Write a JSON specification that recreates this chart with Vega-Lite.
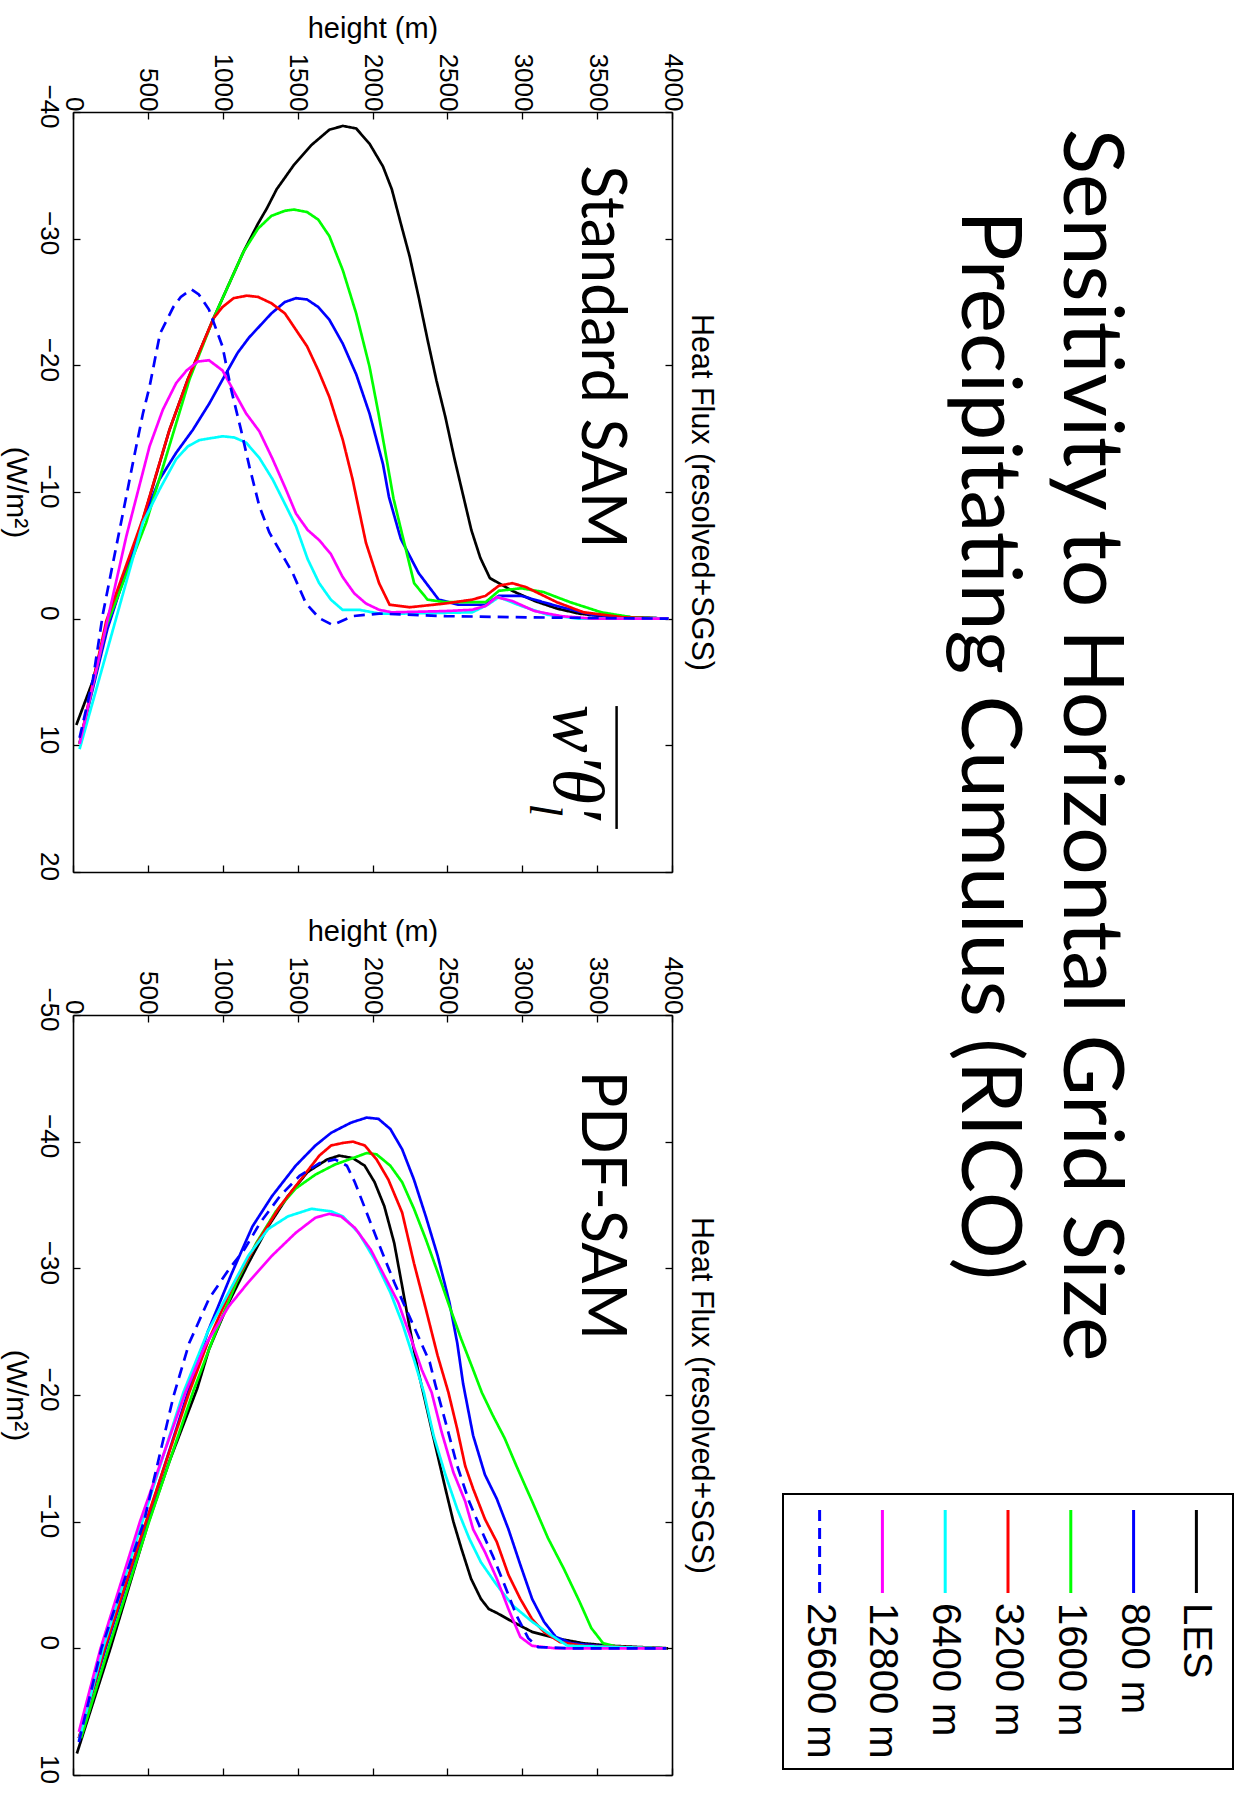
{
"$schema": "https://vega.github.io/schema/vega-lite/v6.json",
"background": "white",
"padding": {"left": 0, "top": 14, "right": 0, "bottom": 0},
"config": {
  "view": {"stroke": null},
  "font": "Liberation Sans",
  "axis": {"grid": false, "domainColor": "black", "domainWidth": 1.6, "tickColor": "black", "tickWidth": 1.3, "tickSize": -7,
    "labelColor": "black", "titleColor": "black", "labelFont": "Liberation Sans", "titleFont": "Liberation Sans",
    "labelFontSize": 26, "titleFontSize": 30, "titleFontWeight": "normal", "labelFlush": false, "labelOverlap": false},
  "text": {"color": "black"}
},
"datasets": {
  "titles": [
    {"n": 1, "line": "Sensitivity to Horizontal Grid Size"},
    {"n": 2, "line": "Precipitating Cumulus (RICO)"}
  ],
  "legend": [
    {"s": "LES"}, {"s": "800 m"}, {"s": "1600 m"}, {"s": "3200 m"}, {"s": "6400 m"}, {"s": "12800 m"}, {"s": "25600 m"}
  ],
  "curves": [
    {"p":"std","s":"LES","h":22,"f":8.4},{"p":"std","s":"LES","h":133,"f":4.9},{"p":"std","s":"LES","h":200,"f":1.7},{"p":"std","s":"LES","h":467,"f":-7.8},{"p":"std","s":"LES","h":644,"f":-14.9},{"p":"std","s":"LES","h":767,"f":-18.9},{"p":"std","s":"LES","h":938,"f":-23.7},{"p":"std","s":"LES","h":1140,"f":-29.0},{"p":"std","s":"LES","h":1236,"f":-31.2},{"p":"std","s":"LES","h":1295,"f":-32.4},{"p":"std","s":"LES","h":1360,"f":-33.9},{"p":"std","s":"LES","h":1474,"f":-35.8},{"p":"std","s":"LES","h":1593,"f":-37.4},{"p":"std","s":"LES","h":1712,"f":-38.6},{"p":"std","s":"LES","h":1802,"f":-38.9},{"p":"std","s":"LES","h":1891,"f":-38.7},{"p":"std","s":"LES","h":1980,"f":-37.5},{"p":"std","s":"LES","h":2070,"f":-35.7},{"p":"std","s":"LES","h":2129,"f":-33.9},{"p":"std","s":"LES","h":2189,"f":-31.2},{"p":"std","s":"LES","h":2248,"f":-28.6},{"p":"std","s":"LES","h":2308,"f":-25.4},{"p":"std","s":"LES","h":2368,"f":-22.0},{"p":"std","s":"LES","h":2427,"f":-18.8},{"p":"std","s":"LES","h":2487,"f":-15.9},{"p":"std","s":"LES","h":2546,"f":-12.7},{"p":"std","s":"LES","h":2600,"f":-10.0},{"p":"std","s":"LES","h":2660,"f":-7.0},{"p":"std","s":"LES","h":2720,"f":-4.8},{"p":"std","s":"LES","h":2784,"f":-3.2},{"p":"std","s":"LES","h":2874,"f":-2.6},{"p":"std","s":"LES","h":2933,"f":-2.2},{"p":"std","s":"LES","h":3082,"f":-1.4},{"p":"std","s":"LES","h":3231,"f":-0.8},{"p":"std","s":"LES","h":3380,"f":-0.4},{"p":"std","s":"LES","h":3529,"f":-0.2},{"p":"std","s":"LES","h":3976,"f":0},
    {"p":"std","s":"800 m","h":44,"f":9.8},{"p":"std","s":"800 m","h":230,"f":0.8},{"p":"std","s":"800 m","h":467,"f":-7.8},{"p":"std","s":"800 m","h":578,"f":-11.0},{"p":"std","s":"800 m","h":689,"f":-13.1},{"p":"std","s":"800 m","h":800,"f":-14.9},{"p":"std","s":"800 m","h":911,"f":-17.0},{"p":"std","s":"800 m","h":1000,"f":-18.9},{"p":"std","s":"800 m","h":1100,"f":-21.0},{"p":"std","s":"800 m","h":1176,"f":-22.2},{"p":"std","s":"800 m","h":1325,"f":-24.1},{"p":"std","s":"800 m","h":1415,"f":-25.0},{"p":"std","s":"800 m","h":1489,"f":-25.3},{"p":"std","s":"800 m","h":1563,"f":-25.2},{"p":"std","s":"800 m","h":1638,"f":-24.6},{"p":"std","s":"800 m","h":1712,"f":-23.6},{"p":"std","s":"800 m","h":1802,"f":-21.7},{"p":"std","s":"800 m","h":1891,"f":-19.3},{"p":"std","s":"800 m","h":1980,"f":-16.2},{"p":"std","s":"800 m","h":2070,"f":-12.2},{"p":"std","s":"800 m","h":2110,"f":-9.6},{"p":"std","s":"800 m","h":2189,"f":-6.3},{"p":"std","s":"800 m","h":2308,"f":-3.6},{"p":"std","s":"800 m","h":2442,"f":-1.5},{"p":"std","s":"800 m","h":2576,"f":-1.1},{"p":"std","s":"800 m","h":2755,"f":-1.1},{"p":"std","s":"800 m","h":2844,"f":-1.8},{"p":"std","s":"800 m","h":2993,"f":-1.8},{"p":"std","s":"800 m","h":3231,"f":-1.0},{"p":"std","s":"800 m","h":3469,"f":-0.3},{"p":"std","s":"800 m","h":3737,"f":-0.1},{"p":"std","s":"800 m","h":3976,"f":0},
    {"p":"std","s":"1600 m","h":44,"f":9.9},{"p":"std","s":"1600 m","h":222,"f":0.6},{"p":"std","s":"1600 m","h":489,"f":-7.6},{"p":"std","s":"1600 m","h":778,"f":-18.9},{"p":"std","s":"1600 m","h":938,"f":-23.7},{"p":"std","s":"1600 m","h":1140,"f":-29.0},{"p":"std","s":"1600 m","h":1236,"f":-30.8},{"p":"std","s":"1600 m","h":1325,"f":-31.8},{"p":"std","s":"1600 m","h":1415,"f":-32.2},{"p":"std","s":"1600 m","h":1474,"f":-32.3},{"p":"std","s":"1600 m","h":1563,"f":-32.1},{"p":"std","s":"1600 m","h":1638,"f":-31.5},{"p":"std","s":"1600 m","h":1712,"f":-30.2},{"p":"std","s":"1600 m","h":1802,"f":-27.5},{"p":"std","s":"1600 m","h":1891,"f":-24.1},{"p":"std","s":"1600 m","h":1980,"f":-19.9},{"p":"std","s":"1600 m","h":2040,"f":-16.2},{"p":"std","s":"1600 m","h":2100,"f":-12.2},{"p":"std","s":"1600 m","h":2140,"f":-9.5},{"p":"std","s":"1600 m","h":2189,"f":-7.1},{"p":"std","s":"1600 m","h":2278,"f":-2.8},{"p":"std","s":"1600 m","h":2368,"f":-1.5},{"p":"std","s":"1600 m","h":2487,"f":-1.3},{"p":"std","s":"1600 m","h":2755,"f":-1.3},{"p":"std","s":"1600 m","h":2844,"f":-2.2},{"p":"std","s":"1600 m","h":2993,"f":-2.4},{"p":"std","s":"1600 m","h":3142,"f":-2.1},{"p":"std","s":"1600 m","h":3320,"f":-1.3},{"p":"std","s":"1600 m","h":3529,"f":-0.5},{"p":"std","s":"1600 m","h":3737,"f":-0.1},{"p":"std","s":"1600 m","h":3976,"f":0},
    {"p":"std","s":"3200 m","h":44,"f":9.9},{"p":"std","s":"3200 m","h":222,"f":0.2},{"p":"std","s":"3200 m","h":467,"f":-7.9},{"p":"std","s":"3200 m","h":644,"f":-14.9},{"p":"std","s":"3200 m","h":767,"f":-18.9},{"p":"std","s":"3200 m","h":938,"f":-23.7},{"p":"std","s":"3200 m","h":998,"f":-24.6},{"p":"std","s":"3200 m","h":1072,"f":-25.3},{"p":"std","s":"3200 m","h":1161,"f":-25.5},{"p":"std","s":"3200 m","h":1236,"f":-25.4},{"p":"std","s":"3200 m","h":1325,"f":-24.9},{"p":"std","s":"3200 m","h":1415,"f":-24.1},{"p":"std","s":"3200 m","h":1489,"f":-22.8},{"p":"std","s":"3200 m","h":1563,"f":-21.5},{"p":"std","s":"3200 m","h":1638,"f":-19.6},{"p":"std","s":"3200 m","h":1712,"f":-17.5},{"p":"std","s":"3200 m","h":1802,"f":-14.1},{"p":"std","s":"3200 m","h":1867,"f":-11.0},{"p":"std","s":"3200 m","h":1956,"f":-6.0},{"p":"std","s":"3200 m","h":2044,"f":-2.8},{"p":"std","s":"3200 m","h":2114,"f":-1.1},{"p":"std","s":"3200 m","h":2248,"f":-0.9},{"p":"std","s":"3200 m","h":2487,"f":-1.2},{"p":"std","s":"3200 m","h":2665,"f":-1.5},{"p":"std","s":"3200 m","h":2755,"f":-1.8},{"p":"std","s":"3200 m","h":2844,"f":-2.6},{"p":"std","s":"3200 m","h":2933,"f":-2.8},{"p":"std","s":"3200 m","h":3023,"f":-2.5},{"p":"std","s":"3200 m","h":3231,"f":-1.3},{"p":"std","s":"3200 m","h":3410,"f":-0.5},{"p":"std","s":"3200 m","h":3678,"f":-0.1},{"p":"std","s":"3200 m","h":3976,"f":0},
    {"p":"std","s":"6400 m","h":44,"f":10.3},{"p":"std","s":"6400 m","h":467,"f":-7.6},{"p":"std","s":"6400 m","h":578,"f":-10.2},{"p":"std","s":"6400 m","h":689,"f":-12.6},{"p":"std","s":"6400 m","h":767,"f":-13.6},{"p":"std","s":"6400 m","h":844,"f":-14.1},{"p":"std","s":"6400 m","h":1000,"f":-14.4},{"p":"std","s":"6400 m","h":1078,"f":-14.3},{"p":"std","s":"6400 m","h":1156,"f":-13.9},{"p":"std","s":"6400 m","h":1244,"f":-12.7},{"p":"std","s":"6400 m","h":1333,"f":-11.0},{"p":"std","s":"6400 m","h":1422,"f":-8.9},{"p":"std","s":"6400 m","h":1489,"f":-7.3},{"p":"std","s":"6400 m","h":1567,"f":-4.7},{"p":"std","s":"6400 m","h":1644,"f":-2.8},{"p":"std","s":"6400 m","h":1722,"f":-1.5},{"p":"std","s":"6400 m","h":1800,"f":-0.7},{"p":"std","s":"6400 m","h":1911,"f":-0.7},{"p":"std","s":"6400 m","h":2044,"f":-0.4},{"p":"std","s":"6400 m","h":2189,"f":-0.4},{"p":"std","s":"6400 m","h":2665,"f":-0.5},{"p":"std","s":"6400 m","h":2770,"f":-1.1},{"p":"std","s":"6400 m","h":2844,"f":-1.7},{"p":"std","s":"6400 m","h":2993,"f":-1.0},{"p":"std","s":"6400 m","h":3172,"f":-0.3},{"p":"std","s":"6400 m","h":3380,"f":0},{"p":"std","s":"6400 m","h":3976,"f":0},
    {"p":"std","s":"12800 m","h":44,"f":9.9},{"p":"std","s":"12800 m","h":200,"f":1.7},{"p":"std","s":"12800 m","h":356,"f":-6.5},{"p":"std","s":"12800 m","h":511,"f":-13.6},{"p":"std","s":"12800 m","h":600,"f":-16.5},{"p":"std","s":"12800 m","h":689,"f":-18.6},{"p":"std","s":"12800 m","h":759,"f":-19.6},{"p":"std","s":"12800 m","h":834,"f":-20.3},{"p":"std","s":"12800 m","h":908,"f":-20.4},{"p":"std","s":"12800 m","h":998,"f":-19.6},{"p":"std","s":"12800 m","h":1072,"f":-18.0},{"p":"std","s":"12800 m","h":1156,"f":-16.2},{"p":"std","s":"12800 m","h":1244,"f":-14.8},{"p":"std","s":"12800 m","h":1333,"f":-12.6},{"p":"std","s":"12800 m","h":1422,"f":-10.2},{"p":"std","s":"12800 m","h":1489,"f":-8.3},{"p":"std","s":"12800 m","h":1567,"f":-7.0},{"p":"std","s":"12800 m","h":1644,"f":-6.2},{"p":"std","s":"12800 m","h":1722,"f":-5.1},{"p":"std","s":"12800 m","h":1800,"f":-3.3},{"p":"std","s":"12800 m","h":1878,"f":-2.0},{"p":"std","s":"12800 m","h":1956,"f":-1.2},{"p":"std","s":"12800 m","h":2044,"f":-0.7},{"p":"std","s":"12800 m","h":2129,"f":-0.5},{"p":"std","s":"12800 m","h":2487,"f":-0.6},{"p":"std","s":"12800 m","h":2665,"f":-0.7},{"p":"std","s":"12800 m","h":2755,"f":-1.0},{"p":"std","s":"12800 m","h":2829,"f":-1.7},{"p":"std","s":"12800 m","h":2933,"f":-1.4},{"p":"std","s":"12800 m","h":3082,"f":-0.6},{"p":"std","s":"12800 m","h":3261,"f":-0.2},{"p":"std","s":"12800 m","h":3469,"f":0},{"p":"std","s":"12800 m","h":3976,"f":0},
    {"p":"std","s":"25600 m","h":44,"f":9.4},{"p":"std","s":"25600 m","h":133,"f":4.8},{"p":"std","s":"25600 m","h":200,"f":-0.4},{"p":"std","s":"25600 m","h":267,"f":-4.4},{"p":"std","s":"25600 m","h":333,"f":-8.3},{"p":"std","s":"25600 m","h":400,"f":-12.3},{"p":"std","s":"25600 m","h":467,"f":-16.2},{"p":"std","s":"25600 m","h":511,"f":-18.3},{"p":"std","s":"25600 m","h":581,"f":-22.5},{"p":"std","s":"25600 m","h":670,"f":-24.6},{"p":"std","s":"25600 m","h":720,"f":-25.4},{"p":"std","s":"25600 m","h":790,"f":-26.0},{"p":"std","s":"25600 m","h":840,"f":-25.6},{"p":"std","s":"25600 m","h":908,"f":-24.4},{"p":"std","s":"25600 m","h":998,"f":-21.5},{"p":"std","s":"25600 m","h":1056,"f":-18.1},{"p":"std","s":"25600 m","h":1122,"f":-14.9},{"p":"std","s":"25600 m","h":1178,"f":-12.0},{"p":"std","s":"25600 m","h":1244,"f":-8.9},{"p":"std","s":"25600 m","h":1311,"f":-6.8},{"p":"std","s":"25600 m","h":1389,"f":-5.2},{"p":"std","s":"25600 m","h":1467,"f":-3.6},{"p":"std","s":"25600 m","h":1556,"f":-1.2},{"p":"std","s":"25600 m","h":1644,"f":-0.05},{"p":"std","s":"25600 m","h":1733,"f":0.5},{"p":"std","s":"25600 m","h":1867,"f":-0.2},{"p":"std","s":"25600 m","h":2044,"f":-0.4},{"p":"std","s":"25600 m","h":2487,"f":-0.2},{"p":"std","s":"25600 m","h":3082,"f":-0.1},{"p":"std","s":"25600 m","h":3976,"f":0},
    {"p":"pdf","s":"LES","h":26,"f":8.3},{"p":"pdf","s":"LES","h":250,"f":0},{"p":"pdf","s":"LES","h":505,"f":-10.0},{"p":"pdf","s":"LES","h":645,"f":-14.8},{"p":"pdf","s":"LES","h":829,"f":-20.5},{"p":"pdf","s":"LES","h":908,"f":-23.6},{"p":"pdf","s":"LES","h":1040,"f":-27.3},{"p":"pdf","s":"LES","h":1171,"f":-30.4},{"p":"pdf","s":"LES","h":1303,"f":-33.3},{"p":"pdf","s":"LES","h":1435,"f":-35.7},{"p":"pdf","s":"LES","h":1566,"f":-37.6},{"p":"pdf","s":"LES","h":1698,"f":-38.6},{"p":"pdf","s":"LES","h":1777,"f":-38.9},{"p":"pdf","s":"LES","h":1869,"f":-38.7},{"p":"pdf","s":"LES","h":1948,"f":-38.1},{"p":"pdf","s":"LES","h":2014,"f":-36.8},{"p":"pdf","s":"LES","h":2079,"f":-34.9},{"p":"pdf","s":"LES","h":2145,"f":-32.0},{"p":"pdf","s":"LES","h":2198,"f":-28.6},{"p":"pdf","s":"LES","h":2250,"f":-25.2},{"p":"pdf","s":"LES","h":2303,"f":-22.0},{"p":"pdf","s":"LES","h":2350,"f":-19.6},{"p":"pdf","s":"LES","h":2408,"f":-16.6},{"p":"pdf","s":"LES","h":2487,"f":-12.6},{"p":"pdf","s":"LES","h":2540,"f":-10.0},{"p":"pdf","s":"LES","h":2593,"f":-7.9},{"p":"pdf","s":"LES","h":2658,"f":-5.5},{"p":"pdf","s":"LES","h":2724,"f":-3.9},{"p":"pdf","s":"LES","h":2777,"f":-3.1},{"p":"pdf","s":"LES","h":2830,"f":-2.8},{"p":"pdf","s":"LES","h":2935,"f":-2.1},{"p":"pdf","s":"LES","h":3066,"f":-1.3},{"p":"pdf","s":"LES","h":3224,"f":-0.8},{"p":"pdf","s":"LES","h":3408,"f":-0.4},{"p":"pdf","s":"LES","h":3593,"f":-0.2},{"p":"pdf","s":"LES","h":3974,"f":0},
    {"p":"pdf","s":"800 m","h":39,"f":7.1},{"p":"pdf","s":"800 m","h":218,"f":0},{"p":"pdf","s":"800 m","h":492,"f":-10.0},{"p":"pdf","s":"800 m","h":770,"f":-20.3},{"p":"pdf","s":"800 m","h":900,"f":-25.0},{"p":"pdf","s":"800 m","h":1060,"f":-29.6},{"p":"pdf","s":"800 m","h":1198,"f":-33.3},{"p":"pdf","s":"800 m","h":1329,"f":-35.7},{"p":"pdf","s":"800 m","h":1487,"f":-38.1},{"p":"pdf","s":"800 m","h":1619,"f":-39.7},{"p":"pdf","s":"800 m","h":1724,"f":-40.7},{"p":"pdf","s":"800 m","h":1856,"f":-41.5},{"p":"pdf","s":"800 m","h":1961,"f":-41.9},{"p":"pdf","s":"800 m","h":2040,"f":-41.8},{"p":"pdf","s":"800 m","h":2119,"f":-41.0},{"p":"pdf","s":"800 m","h":2198,"f":-39.4},{"p":"pdf","s":"800 m","h":2277,"f":-37.0},{"p":"pdf","s":"800 m","h":2356,"f":-34.1},{"p":"pdf","s":"800 m","h":2435,"f":-31.0},{"p":"pdf","s":"800 m","h":2514,"f":-27.3},{"p":"pdf","s":"800 m","h":2566,"f":-24.1},{"p":"pdf","s":"800 m","h":2605,"f":-20.9},{"p":"pdf","s":"800 m","h":2672,"f":-16.8},{"p":"pdf","s":"800 m","h":2751,"f":-13.7},{"p":"pdf","s":"800 m","h":2830,"f":-11.8},{"p":"pdf","s":"800 m","h":2908,"f":-9.4},{"p":"pdf","s":"800 m","h":2987,"f":-6.6},{"p":"pdf","s":"800 m","h":3066,"f":-3.9},{"p":"pdf","s":"800 m","h":3145,"f":-2.1},{"p":"pdf","s":"800 m","h":3224,"f":-0.9},{"p":"pdf","s":"800 m","h":3330,"f":-0.4},{"p":"pdf","s":"800 m","h":3593,"f":-0.1},{"p":"pdf","s":"800 m","h":3961,"f":0},
    {"p":"pdf","s":"1600 m","h":53,"f":7.1},{"p":"pdf","s":"1600 m","h":237,"f":0},{"p":"pdf","s":"1600 m","h":508,"f":-10.0},{"p":"pdf","s":"1600 m","h":803,"f":-20.3},{"p":"pdf","s":"1600 m","h":934,"f":-24.4},{"p":"pdf","s":"1600 m","h":1092,"f":-28.9},{"p":"pdf","s":"1600 m","h":1224,"f":-32.0},{"p":"pdf","s":"1600 m","h":1355,"f":-34.5},{"p":"pdf","s":"1600 m","h":1487,"f":-36.3},{"p":"pdf","s":"1600 m","h":1619,"f":-37.4},{"p":"pdf","s":"1600 m","h":1750,"f":-38.2},{"p":"pdf","s":"1600 m","h":1869,"f":-38.7},{"p":"pdf","s":"1600 m","h":1961,"f":-39.1},{"p":"pdf","s":"1600 m","h":2027,"f":-39.0},{"p":"pdf","s":"1600 m","h":2119,"f":-38.1},{"p":"pdf","s":"1600 m","h":2198,"f":-36.8},{"p":"pdf","s":"1600 m","h":2277,"f":-34.7},{"p":"pdf","s":"1600 m","h":2356,"f":-32.3},{"p":"pdf","s":"1600 m","h":2435,"f":-29.7},{"p":"pdf","s":"1600 m","h":2514,"f":-27.0},{"p":"pdf","s":"1600 m","h":2593,"f":-24.4},{"p":"pdf","s":"1600 m","h":2672,"f":-22.0},{"p":"pdf","s":"1600 m","h":2730,"f":-20.2},{"p":"pdf","s":"1600 m","h":2803,"f":-18.4},{"p":"pdf","s":"1600 m","h":2882,"f":-16.6},{"p":"pdf","s":"1600 m","h":2961,"f":-14.4},{"p":"pdf","s":"1600 m","h":3066,"f":-11.6},{"p":"pdf","s":"1600 m","h":3172,"f":-8.7},{"p":"pdf","s":"1600 m","h":3277,"f":-6.3},{"p":"pdf","s":"1600 m","h":3382,"f":-3.7},{"p":"pdf","s":"1600 m","h":3461,"f":-1.6},{"p":"pdf","s":"1600 m","h":3540,"f":-0.4},{"p":"pdf","s":"1600 m","h":3645,"f":-0.1},{"p":"pdf","s":"1600 m","h":3961,"f":0},
    {"p":"pdf","s":"3200 m","h":39,"f":7.1},{"p":"pdf","s":"3200 m","h":211,"f":0},{"p":"pdf","s":"3200 m","h":487,"f":-10.0},{"p":"pdf","s":"3200 m","h":776,"f":-20.2},{"p":"pdf","s":"3200 m","h":908,"f":-24.4},{"p":"pdf","s":"3200 m","h":1066,"f":-28.6},{"p":"pdf","s":"3200 m","h":1224,"f":-31.9},{"p":"pdf","s":"3200 m","h":1382,"f":-34.9},{"p":"pdf","s":"3200 m","h":1540,"f":-37.3},{"p":"pdf","s":"3200 m","h":1645,"f":-38.9},{"p":"pdf","s":"3200 m","h":1724,"f":-39.7},{"p":"pdf","s":"3200 m","h":1803,"f":-39.9},{"p":"pdf","s":"3200 m","h":1869,"f":-40.0},{"p":"pdf","s":"3200 m","h":1948,"f":-39.7},{"p":"pdf","s":"3200 m","h":2027,"f":-38.6},{"p":"pdf","s":"3200 m","h":2106,"f":-37.0},{"p":"pdf","s":"3200 m","h":2198,"f":-34.4},{"p":"pdf","s":"3200 m","h":2277,"f":-30.4},{"p":"pdf","s":"3200 m","h":2356,"f":-26.8},{"p":"pdf","s":"3200 m","h":2435,"f":-23.1},{"p":"pdf","s":"3200 m","h":2507,"f":-20.2},{"p":"pdf","s":"3200 m","h":2566,"f":-17.3},{"p":"pdf","s":"3200 m","h":2619,"f":-14.4},{"p":"pdf","s":"3200 m","h":2672,"f":-12.6},{"p":"pdf","s":"3200 m","h":2751,"f":-10.2},{"p":"pdf","s":"3200 m","h":2830,"f":-8.4},{"p":"pdf","s":"3200 m","h":2908,"f":-5.8},{"p":"pdf","s":"3200 m","h":2987,"f":-3.9},{"p":"pdf","s":"3200 m","h":3066,"f":-2.3},{"p":"pdf","s":"3200 m","h":3145,"f":-1.3},{"p":"pdf","s":"3200 m","h":3251,"f":-0.5},{"p":"pdf","s":"3200 m","h":3408,"f":-0.2},{"p":"pdf","s":"3200 m","h":3961,"f":0},
    {"p":"pdf","s":"6400 m","h":39,"f":7.3},{"p":"pdf","s":"6400 m","h":200,"f":0},{"p":"pdf","s":"6400 m","h":463,"f":-10.0},{"p":"pdf","s":"6400 m","h":737,"f":-20.2},{"p":"pdf","s":"6400 m","h":900,"f":-25.0},{"p":"pdf","s":"6400 m","h":1040,"f":-28.1},{"p":"pdf","s":"6400 m","h":1171,"f":-31.0},{"p":"pdf","s":"6400 m","h":1303,"f":-33.1},{"p":"pdf","s":"6400 m","h":1435,"f":-34.1},{"p":"pdf","s":"6400 m","h":1592,"f":-34.7},{"p":"pdf","s":"6400 m","h":1724,"f":-34.5},{"p":"pdf","s":"6400 m","h":1803,"f":-34.1},{"p":"pdf","s":"6400 m","h":1908,"f":-32.8},{"p":"pdf","s":"6400 m","h":2014,"f":-30.7},{"p":"pdf","s":"6400 m","h":2119,"f":-28.1},{"p":"pdf","s":"6400 m","h":2198,"f":-25.7},{"p":"pdf","s":"6400 m","h":2277,"f":-22.8},{"p":"pdf","s":"6400 m","h":2343,"f":-20.2},{"p":"pdf","s":"6400 m","h":2408,"f":-16.8},{"p":"pdf","s":"6400 m","h":2487,"f":-13.7},{"p":"pdf","s":"6400 m","h":2566,"f":-11.0},{"p":"pdf","s":"6400 m","h":2645,"f":-8.7},{"p":"pdf","s":"6400 m","h":2724,"f":-6.8},{"p":"pdf","s":"6400 m","h":2830,"f":-5.0},{"p":"pdf","s":"6400 m","h":2935,"f":-3.4},{"p":"pdf","s":"6400 m","h":3066,"f":-2.1},{"p":"pdf","s":"6400 m","h":3198,"f":-1.0},{"p":"pdf","s":"6400 m","h":3303,"f":-0.2},{"p":"pdf","s":"6400 m","h":3961,"f":0},
    {"p":"pdf","s":"12800 m","h":39,"f":6.6},{"p":"pdf","s":"12800 m","h":184,"f":0},{"p":"pdf","s":"12800 m","h":447,"f":-10.0},{"p":"pdf","s":"12800 m","h":750,"f":-20.2},{"p":"pdf","s":"12800 m","h":882,"f":-23.9},{"p":"pdf","s":"12800 m","h":1040,"f":-27.0},{"p":"pdf","s":"12800 m","h":1171,"f":-28.9},{"p":"pdf","s":"12800 m","h":1329,"f":-31.0},{"p":"pdf","s":"12800 m","h":1487,"f":-32.8},{"p":"pdf","s":"12800 m","h":1619,"f":-34.0},{"p":"pdf","s":"12800 m","h":1711,"f":-34.3},{"p":"pdf","s":"12800 m","h":1790,"f":-34.1},{"p":"pdf","s":"12800 m","h":1882,"f":-33.2},{"p":"pdf","s":"12800 m","h":1987,"f":-31.5},{"p":"pdf","s":"12800 m","h":2093,"f":-29.1},{"p":"pdf","s":"12800 m","h":2172,"f":-27.3},{"p":"pdf","s":"12800 m","h":2250,"f":-24.7},{"p":"pdf","s":"12800 m","h":2329,"f":-22.0},{"p":"pdf","s":"12800 m","h":2395,"f":-20.2},{"p":"pdf","s":"12800 m","h":2461,"f":-17.1},{"p":"pdf","s":"12800 m","h":2540,"f":-13.9},{"p":"pdf","s":"12800 m","h":2619,"f":-11.6},{"p":"pdf","s":"12800 m","h":2672,"f":-9.4},{"p":"pdf","s":"12800 m","h":2751,"f":-7.6},{"p":"pdf","s":"12800 m","h":2830,"f":-5.5},{"p":"pdf","s":"12800 m","h":2908,"f":-3.1},{"p":"pdf","s":"12800 m","h":2987,"f":-0.9},{"p":"pdf","s":"12800 m","h":3066,"f":-0.2},{"p":"pdf","s":"12800 m","h":3224,"f":0},{"p":"pdf","s":"12800 m","h":3961,"f":0},
    {"p":"pdf","s":"25600 m","h":39,"f":7.4},{"p":"pdf","s":"25600 m","h":190,"f":0},{"p":"pdf","s":"25600 m","h":474,"f":-10.0},{"p":"pdf","s":"25600 m","h":671,"f":-19.9},{"p":"pdf","s":"25600 m","h":776,"f":-24.1},{"p":"pdf","s":"25600 m","h":908,"f":-27.6},{"p":"pdf","s":"25600 m","h":1040,"f":-29.9},{"p":"pdf","s":"25600 m","h":1145,"f":-31.5},{"p":"pdf","s":"25600 m","h":1250,"f":-33.6},{"p":"pdf","s":"25600 m","h":1382,"f":-35.7},{"p":"pdf","s":"25600 m","h":1513,"f":-37.3},{"p":"pdf","s":"25600 m","h":1645,"f":-38.3},{"p":"pdf","s":"25600 m","h":1750,"f":-38.6},{"p":"pdf","s":"25600 m","h":1829,"f":-38.1},{"p":"pdf","s":"25600 m","h":1882,"f":-36.8},{"p":"pdf","s":"25600 m","h":1961,"f":-34.4},{"p":"pdf","s":"25600 m","h":2040,"f":-32.0},{"p":"pdf","s":"25600 m","h":2145,"f":-28.9},{"p":"pdf","s":"25600 m","h":2224,"f":-26.8},{"p":"pdf","s":"25600 m","h":2303,"f":-24.7},{"p":"pdf","s":"25600 m","h":2382,"f":-22.6},{"p":"pdf","s":"25600 m","h":2420,"f":-20.8},{"p":"pdf","s":"25600 m","h":2487,"f":-17.9},{"p":"pdf","s":"25600 m","h":2566,"f":-14.4},{"p":"pdf","s":"25600 m","h":2645,"f":-11.6},{"p":"pdf","s":"25600 m","h":2724,"f":-9.4},{"p":"pdf","s":"25600 m","h":2803,"f":-7.3},{"p":"pdf","s":"25600 m","h":2882,"f":-5.0},{"p":"pdf","s":"25600 m","h":2961,"f":-2.6},{"p":"pdf","s":"25600 m","h":3040,"f":-0.8},{"p":"pdf","s":"25600 m","h":3106,"f":-0.1},{"p":"pdf","s":"25600 m","h":3330,"f":0},{"p":"pdf","s":"25600 m","h":3961,"f":0}
  ]
},
"spacing": 66,
"align": "none",
"bounds": "full",
"hconcat": [
  {
    "spacing": 36,
    "vconcat": [
      {
        "width": 599, "height": 760,
        "resolve": {"axis": {"x": "independent", "y": "independent"}},
        "layer": [
          {
            "data": {"name": "curves"},
            "transform": [{"filter": "datum.p === 'std'"}],
            "mark": {"type": "line", "strokeWidth": 2.7},
            "encoding": {
              "x": {"field": "h", "type": "quantitative", "scale": {"domain": [0, 4000], "nice": false, "zero": false},
                "axis": {"orient": "top", "values": [0,500,1000,1500,2000,2500,3000,3500,4000], "format": "d", "title": "height (m)",
                  "labelAngle": 90, "labelAlign": "right", "labelBaseline": "middle", "labelPadding": 8,
                  "titleAngle": 0, "titleBaseline": "bottom", "titlePadding": 10, "titleFontSize": 29}},
              "y": {"field": "f", "type": "quantitative", "scale": {"domain": [-40, 20], "nice": false, "zero": false, "reverse": true},
                "axis": {"orient": "left", "values": [-40,-30,-20,-10,0,10,20], "title": "(W/m²)",
                  "labelAngle": 90, "labelAlign": "center", "labelBaseline": "top", "labelPadding": 19, "labelOffset": -6,
                  "titleAngle": 90, "titleAlign": "center", "titleBaseline": "top", "titlePadding": 5}},
              "color": {"field": "s", "type": "nominal", "legend": null,
                "scale": {"domain": ["LES","800 m","1600 m","3200 m","6400 m","12800 m","25600 m"], "range": ["#000000","#0000ff","#00ff00","#ff0000","#00ffff","#ff00ff","#0000ff"]}},
              "strokeDash": {"field": "s", "type": "nominal", "legend": null,
                "scale": {"domain": ["LES","800 m","1600 m","3200 m","6400 m","12800 m","25600 m"], "range": [[1,0],[1,0],[1,0],[1,0],[1,0],[1,0],[11,7]]}}
            }
          },
          {
            "data": {"values": [{}]},
            "mark": {"type": "text", "text": "Standard SAM", "angle": 90, "align": "left", "baseline": "middle", "font": "Lato", "fontSize": 61, "color": "black"},
            "encoding": {
              "x": {"datum": 3520, "type": "quantitative",
                "axis": {"orient": "bottom", "values": [0,500,1000,1500,2000,2500,3000,3500,4000], "labels": false, "title": null}},
              "y": {"datum": -35.8, "type": "quantitative",
                "axis": {"orient": "right", "values": [-40,-30,-20,-10,0,10,20], "labels": false, "title": "Heat Flux (resolved+SGS)",
                  "titleAngle": 90, "titleAlign": "center", "titleBaseline": "bottom", "titlePadding": 13, "titleFontSize": 30.5}}
            }
          },
          {
            "data": {"values": [{}]},
            "mark": {"type": "text", "text": "w′θ′", "angle": 90, "align": "left", "baseline": "alphabetic", "font": "Liberation Serif", "fontStyle": "italic", "fontSize": 72, "color": "black"},
            "encoding": {
              "x": {"datum": 3211, "type": "quantitative", "axis": null},
              "y": {"datum": 6.8, "type": "quantitative", "axis": null}
            }
          },
          {
            "data": {"values": [{}]},
            "mark": {"type": "text", "text": "l", "angle": 90, "align": "left", "baseline": "alphabetic", "font": "Liberation Serif", "fontStyle": "italic", "fontSize": 46, "color": "black"},
            "encoding": {
              "x": {"datum": 3050, "type": "quantitative", "axis": null},
              "y": {"datum": 14.6, "type": "quantitative", "axis": null}
            }
          },
          {
            "data": {"values": [{}]},
            "mark": {"type": "rule", "strokeWidth": 2.5, "color": "black"},
            "encoding": {
              "x": {"datum": 3630, "type": "quantitative", "axis": null},
              "y": {"datum": 6.9, "type": "quantitative", "axis": null},
              "y2": {"datum": 16.6}
            }
          }
        ]
      },
      {
        "width": 599, "height": 760,
        "resolve": {"axis": {"x": "independent", "y": "independent"}},
        "layer": [
          {
            "data": {"name": "curves"},
            "transform": [{"filter": "datum.p === 'pdf'"}],
            "mark": {"type": "line", "strokeWidth": 2.7},
            "encoding": {
              "x": {"field": "h", "type": "quantitative", "scale": {"domain": [0, 4000], "nice": false, "zero": false},
                "axis": {"orient": "top", "values": [0,500,1000,1500,2000,2500,3000,3500,4000], "format": "d", "title": "height (m)",
                  "labelAngle": 90, "labelAlign": "right", "labelBaseline": "middle", "labelPadding": 8,
                  "titleAngle": 0, "titleBaseline": "bottom", "titlePadding": 10, "titleFontSize": 29}},
              "y": {"field": "f", "type": "quantitative", "scale": {"domain": [-50, 10], "nice": false, "zero": false, "reverse": true},
                "axis": {"orient": "left", "values": [-50,-40,-30,-20,-10,0,10], "title": "(W/m²)",
                  "labelAngle": 90, "labelAlign": "center", "labelBaseline": "top", "labelPadding": 19, "labelOffset": -6,
                  "titleAngle": 90, "titleAlign": "center", "titleBaseline": "top", "titlePadding": 5}},
              "color": {"field": "s", "type": "nominal", "legend": null,
                "scale": {"domain": ["LES","800 m","1600 m","3200 m","6400 m","12800 m","25600 m"], "range": ["#000000","#0000ff","#00ff00","#ff0000","#00ffff","#ff00ff","#0000ff"]}},
              "strokeDash": {"field": "s", "type": "nominal", "legend": null,
                "scale": {"domain": ["LES","800 m","1600 m","3200 m","6400 m","12800 m","25600 m"], "range": [[1,0],[1,0],[1,0],[1,0],[1,0],[1,0],[11,7]]}}
            }
          },
          {
            "data": {"values": [{}]},
            "mark": {"type": "text", "text": "PDF-SAM", "angle": 90, "align": "left", "baseline": "middle", "font": "Lato", "fontSize": 61, "color": "black"},
            "encoding": {
              "x": {"datum": 3520, "type": "quantitative",
                "axis": {"orient": "bottom", "values": [0,500,1000,1500,2000,2500,3000,3500,4000], "labels": false, "title": null}},
              "y": {"datum": -45.6, "type": "quantitative",
                "axis": {"orient": "right", "values": [-50,-40,-30,-20,-10,0,10], "labels": false, "title": "Heat Flux (resolved+SGS)",
                  "titleAngle": 90, "titleAlign": "center", "titleBaseline": "bottom", "titlePadding": 13, "titleFontSize": 30.5}}
            }
          }
        ]
      }
    ]
  },
  {
    "spacing": 115,
    "vconcat": [
      {
        "width": 306, "height": 1266,
        "data": {"name": "titles"},
        "mark": {"type": "text", "angle": 90, "align": "center", "baseline": "middle", "font": "Lato", "fontSize": 84, "color": "black"},
        "encoding": {
          "x": {"field": "n", "type": "ordinal", "sort": "descending", "scale": {"type": "point", "padding": 1, "align": 1, "round": false}, "axis": null},
          "text": {"field": "line", "type": "nominal"}
        }
      },
      {
        "width": 450, "height": 275,
        "view": {"stroke": "black", "strokeWidth": 2},
        "data": {"name": "legend"},
        "layer": [
          {
            "mark": {"type": "rule", "strokeWidth": 3},
            "encoding": {
              "x": {"field": "s", "type": "nominal", "sort": ["25600 m","12800 m","6400 m","3200 m","1600 m","800 m","LES"], "scale": {"type": "point", "padding": 0.583, "round": false}, "axis": null},
              "y": {"datum": 0.058, "type": "quantitative", "scale": {"domain": [0, 1], "nice": false, "zero": false, "reverse": true}, "axis": null},
              "y2": {"datum": 0.36},
              "color": {"field": "s", "type": "nominal", "legend": null,
                "scale": {"domain": ["LES","800 m","1600 m","3200 m","6400 m","12800 m","25600 m"], "range": ["#000000","#0000ff","#00ff00","#ff0000","#00ffff","#ff00ff","#0000ff"]}},
              "strokeDash": {"field": "s", "type": "nominal", "legend": null,
                "scale": {"domain": ["LES","800 m","1600 m","3200 m","6400 m","12800 m","25600 m"], "range": [[1,0],[1,0],[1,0],[1,0],[1,0],[1,0],[11,7]]}}
            }
          },
          {
            "mark": {"type": "text", "angle": 90, "align": "left", "baseline": "middle", "font": "Liberation Sans", "fontSize": 40, "color": "black"},
            "encoding": {
              "x": {"field": "s", "type": "nominal", "sort": ["25600 m","12800 m","6400 m","3200 m","1600 m","800 m","LES"], "axis": null},
              "y": {"datum": 0.396, "type": "quantitative", "axis": null},
              "text": {"field": "s", "type": "nominal"}
            }
          }
        ]
      }
    ]
  }
]
}
